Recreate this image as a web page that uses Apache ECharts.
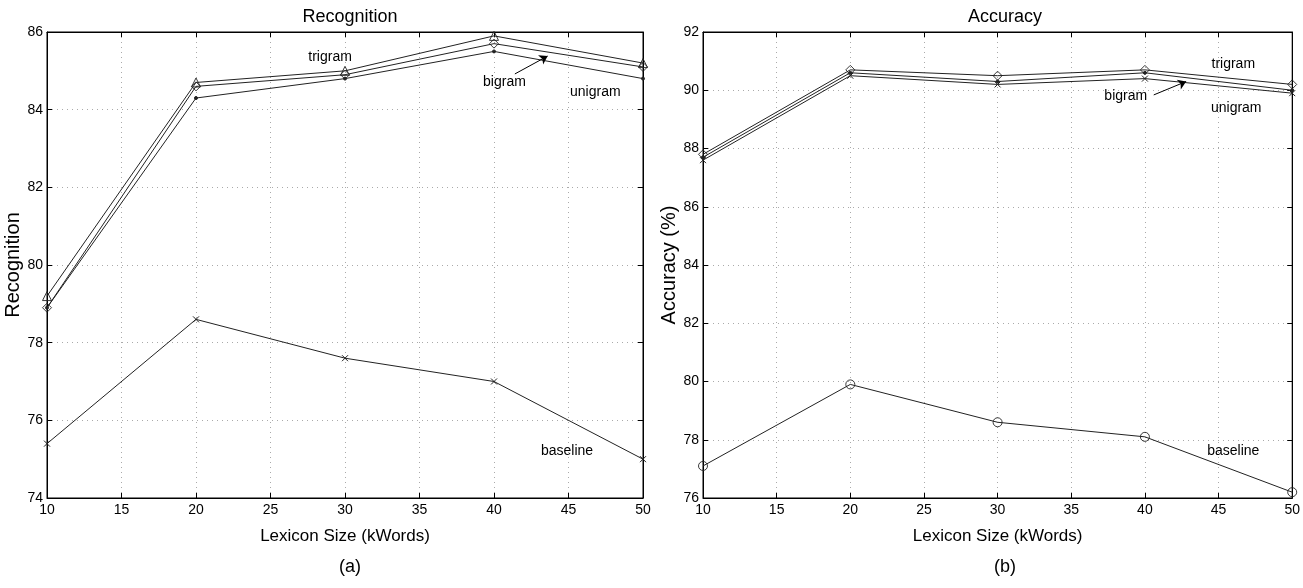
<!DOCTYPE html>
<html>
<head>
<meta charset="utf-8">
<script src="https://cdn.jsdelivr.net/npm/echarts@6/dist/echarts.min.js"></script>
<style>
  html, body { margin: 0; padding: 0; background: #fff; }
  #main { width: 1303px; height: 588px; }
</style>
</head>
<body>
<div id="main"></div>
<script>
// lexicon size (kWords)
const lexicon = [10, 20, 30, 40, 50];

// (a) recognition
const recTrigram = [79.2, 84.7, 85.0, 85.9, 85.2];
const recBigram = [78.9, 84.6, 84.9, 85.7, 85.1];
const recUnigram = [78.9, 84.3, 84.8, 85.5, 84.8];
const recBaseline = [75.4, 78.6, 77.6, 77.0, 75.0];

// (b) accuracy
const accTrigram = [87.8, 90.7, 90.5, 90.7, 90.2];
const accBigram = [87.7, 90.6, 90.3, 90.6, 90.0];
const accUnigram = [87.6, 90.5, 90.2, 90.4, 89.9];
const accBaseline = [77.1, 79.9, 78.6, 78.1, 76.2];

const FONT = "Liberation Sans, Arial, sans-serif";
const INK = "#222";
const CROSS = "path://M0,0L10,10M10,0L0,10";

function pairs(ys) {
  return lexicon.map((x, i) => [x, ys[i]]);
}

// hollow = outline only, so the lines stay visible through the marker
function lineSeries(name, ys, gi, symbol, size, hollow) {
  return {
    name: name,
    type: "line",
    xAxisIndex: gi,
    yAxisIndex: gi,
    data: pairs(ys),
    symbol: symbol,
    symbolSize: size,
    showAllSymbol: true,
    silent: true,
    animation: false,
    lineStyle: { color: INK, width: 1 },
    itemStyle: {
      color: hollow ? "rgba(0,0,0,0)" : INK,
      borderColor: INK,
      borderWidth: hollow ? 0.9 : 1,
    },
    z: 3,
  };
}

function arrow(gi, from, to) {
  return {
    type: "line",
    xAxisIndex: gi,
    yAxisIndex: gi,
    data: [],
    silent: true,
    animation: false,
    markLine: {
      silent: true,
      animation: false,
      symbol: ["none", "arrow"],
      symbolSize: 8,
      label: { show: false },
      itemStyle: { color: "#000" },
      lineStyle: { color: "#000", width: 1, type: "solid" },
      data: [[{ coord: from }, { coord: to }]],
    },
  };
}

const grids = [
  { left: 47, right: 660, top: 32, bottom: 90, show: true, borderColor: "#000", borderWidth: 1 },
  { left: 703, right: 7, top: 32, bottom: 90, show: true, borderColor: "#000", borderWidth: 1 },
];

function xAxisFor(gi, top) {
  return {
    type: "value",
    gridIndex: gi,
    position: top ? "top" : "bottom",
    min: 10,
    max: 50,
    interval: 5,
    name: top ? "" : "Lexicon Size (kWords)",
    nameLocation: "middle",
    nameGap: 30,
    nameTextStyle: { fontFamily: FONT, fontSize: 17, color: "#000" },
    axisLine: { show: true, lineStyle: { color: "#000", width: 1 } },
    axisTick: { show: true, inside: true, length: 5, lineStyle: { color: "#000" } },
    axisLabel: { show: !top, fontFamily: FONT, fontSize: 14, color: "#000", margin: 5 },
    splitLine: {
      show: !top,
      lineStyle: { color: "#aaa", type: [1, 4], width: 1 },
    },
  };
}

function yAxisFor(gi, right, min, max, name) {
  return {
    type: "value",
    gridIndex: gi,
    position: right ? "right" : "left",
    min: min,
    max: max,
    interval: 2,
    name: right ? "" : name,
    nameLocation: "middle",
    nameGap: 24,
    nameRotate: 90,
    nameTextStyle: { fontFamily: FONT, fontSize: 20, color: "#000" },
    axisLine: { show: true, lineStyle: { color: "#000", width: 1 } },
    axisTick: { show: true, inside: true, length: 5, lineStyle: { color: "#000" } },
    axisLabel: { show: !right, fontFamily: FONT, fontSize: 14, color: "#000", margin: 4 },
    splitLine: {
      show: !right,
      lineStyle: { color: "#aaa", type: [1, 4], width: 1 },
    },
  };
}

const chart = echarts.init(document.getElementById("main"), null, { renderer: "canvas" });

const option = {
  backgroundColor: "#fff",
  animation: false,
  title: [
    { text: "Recognition", left: 345, top: 3, textAlign: "center",
      textStyle: { fontFamily: FONT, fontSize: 18, fontWeight: "normal", color: "#000" } },
    { text: "Accuracy", left: 1000, top: 3, textAlign: "center",
      textStyle: { fontFamily: FONT, fontSize: 18, fontWeight: "normal", color: "#000" } },
    { text: "(a)", left: 345, top: 553, textAlign: "center",
      textStyle: { fontFamily: FONT, fontSize: 18, fontWeight: "normal", color: "#000" } },
    { text: "(b)", left: 1000, top: 553, textAlign: "center",
      textStyle: { fontFamily: FONT, fontSize: 18, fontWeight: "normal", color: "#000" } },
  ],
  grid: grids,
  xAxis: [xAxisFor(0, false), xAxisFor(1, false), xAxisFor(0, true), xAxisFor(1, true)],
  yAxis: [
    yAxisFor(0, false, 74, 86, "Recognition"),
    yAxisFor(1, false, 76, 92, "Accuracy (%)"),
    yAxisFor(0, true, 74, 86, ""),
    yAxisFor(1, true, 76, 92, ""),
  ],
  series: [
    lineSeries("unigram", recUnigram, 0, "circle", 3, false),
    lineSeries("bigram", recBigram, 0, "diamond", 9, true),
    lineSeries("trigram", recTrigram, 0, "triangle", 9, true),
    lineSeries("baseline", recBaseline, 0, CROSS, 6, false),
    arrow(0, [41.4, 84.92], [43.6, 85.38]),

    lineSeries("unigram", accUnigram, 1, CROSS, 6, false),
    lineSeries("bigram", accBigram, 1, "circle", 3, false),
    lineSeries("trigram", accTrigram, 1, "diamond", 9, true),
    lineSeries("baseline", accBaseline, 1, "circle", 9, true),
    arrow(1, [40.6, 89.84], [42.8, 90.3]),
  ],
};

chart.setOption(option);

// curve labels placed in data coordinates
const notes = [
  { grid: 0, text: "trigram", at: [29.0, 85.36] },
  { grid: 0, text: "bigram", at: [40.7, 84.7] },
  { grid: 0, text: "unigram", at: [46.8, 84.45] },
  { grid: 0, text: "baseline", at: [44.9, 75.2] },
  { grid: 1, text: "trigram", at: [46.0, 90.9] },
  { grid: 1, text: "bigram", at: [38.7, 89.8] },
  { grid: 1, text: "unigram", at: [46.2, 89.4] },
  { grid: 1, text: "baseline", at: [46.0, 77.6] },
];

const graphic = notes.map(function (n) {
  const p = chart.convertToPixel({ gridIndex: n.grid }, n.at);
  return {
    type: "text",
    x: p[0],
    y: p[1],
    silent: true,
    style: {
      text: n.text,
      fill: "#000",
      font: "14px " + FONT,
      align: "center",
      verticalAlign: "middle",
    },
    z: 10,
  };
});

chart.setOption({ graphic: graphic });
</script>
</body>
</html>
